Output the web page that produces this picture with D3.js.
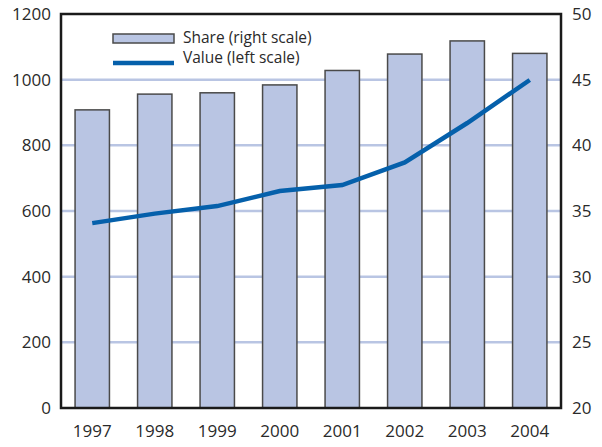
<!DOCTYPE html>
<head>
  <meta charset="utf-8">
  <script src="https://d3js.org/d3.v7.min.js"></script>
  <style>
    body { margin: 0; background: #fff; }
    svg { display: block; font-family: "Open Sans", sans-serif; }
  </style>
</head>
<body>
  <svg width="602" height="447"></svg>
  <script>
    // data
    var years = ['1997', '1998', '1999', '2000', '2001', '2002', '2003', '2004'];
    var share = [42.7, 43.9, 44.0, 44.6, 45.7, 46.95, 47.95, 47.0]; // right scale
    var value = [563, 592, 615, 661, 679, 748, 868, 999];          // left scale
    var leftTicks = [0, 200, 400, 600, 800, 1000, 1200];
    var rightTicks = [20, 25, 30, 35, 40, 45, 50];

    var width = 602, height = 447;
    var margin = {top: 14, bottom: 39, left: 61, right: 41};

    var svg = d3.select('svg');

    var x = d3.scaleBand()
      .domain(years)
      .range([margin.left, width - margin.right])
      .paddingInner(0.45)
      .paddingOuter(0.225);

    var yLeft = d3.scaleLinear().domain([0, 1200]).range([height - margin.bottom, margin.top]);
    var yRight = d3.scaleLinear().domain([20, 50]).range([height - margin.bottom, margin.top]);

    // gridlines
    svg.append('g')
      .selectAll('line')
      .data(leftTicks.filter(d => d > 0 && d < 1200))
      .enter().append('line')
      .attr('x1', margin.left).attr('x2', width - margin.right)
      .attr('y1', d => yLeft(d)).attr('y2', d => yLeft(d))
      .attr('stroke', '#b9c5e3').attr('stroke-width', 2.5);

    // bars
    svg.append('g')
      .selectAll('rect')
      .data(years)
      .enter().append('rect')
      .attr('x', d => x(d))
      .attr('width', x.bandwidth())
      .attr('y', (d, i) => yRight(share[i]))
      .attr('height', (d, i) => yRight(20) - yRight(share[i]))
      .attr('fill', '#b9c5e3')
      .attr('stroke', '#4a4a4a')
      .attr('stroke-width', 1.5);

    // line
    var line = d3.line()
      .x((d, i) => x(years[i]) + x.bandwidth() / 2)
      .y(d => yLeft(d));

    svg.append('path')
      .attr('d', line(value))
      .attr('fill', 'none')
      .attr('stroke', '#0560ab')
      .attr('stroke-width', 4.5);

    // frame
    svg.append('rect')
      .attr('x', margin.left).attr('y', margin.top)
      .attr('width', width - margin.left - margin.right)
      .attr('height', height - margin.top - margin.bottom)
      .attr('fill', 'none')
      .attr('stroke', '#1a1a1a')
      .attr('stroke-width', 2.5);

    // axes
    var axL = svg.append('g')
      .attr('transform', 'translate(' + [margin.left, 0] + ')')
      .call(d3.axisLeft(yLeft).tickValues(leftTicks).tickFormat(d3.format('d')).tickSize(0).tickPadding(10));
    var axR = svg.append('g')
      .attr('transform', 'translate(' + [width - margin.right, 0] + ')')
      .call(d3.axisRight(yRight).tickValues(rightTicks).tickSize(0).tickPadding(11));
    var axB = svg.append('g')
      .attr('transform', 'translate(' + [0, height - margin.bottom] + ')')
      .call(d3.axisBottom(x).tickSize(0).tickPadding(17));

    [axL, axR, axB].forEach(g => {
      g.select('.domain').remove();
      g.selectAll('text')
        .attr('font-family', '"Open Sans", sans-serif')
        .attr('font-size', 17)
        .attr('fill', '#2a2a2a');
    });

    // legend
    var legend = svg.append('g');
    legend.append('rect')
      .attr('x', 113).attr('y', 34).attr('width', 61).attr('height', 9)
      .attr('fill', '#b9c5e3').attr('stroke', '#4a4a4a').attr('stroke-width', 1.5);
    legend.append('line')
      .attr('x1', 113).attr('x2', 174).attr('y1', 63).attr('y2', 63)
      .attr('stroke', '#0560ab').attr('stroke-width', 4.5);
    legend.append('text')
      .attr('x', 183).attr('y', 38).attr('dy', '0.35em')
      .attr('font-size', 15.5).attr('fill', '#2a2a2a')
      .text('Share (right scale)');
    legend.append('text')
      .attr('x', 183).attr('y', 58).attr('dy', '0.35em')
      .attr('font-size', 15.5).attr('fill', '#2a2a2a')
      .text('Value (left scale)');
  </script>
</body>
